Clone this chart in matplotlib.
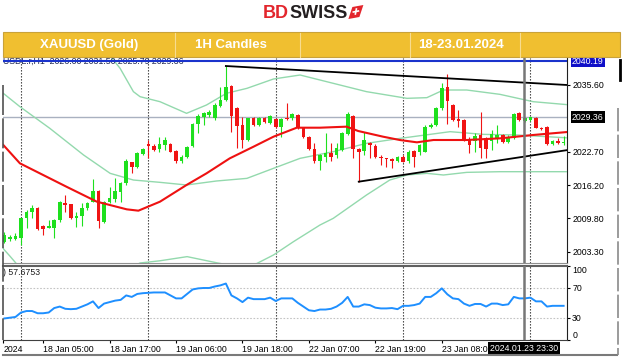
import matplotlib
matplotlib.use('Agg')
import matplotlib.pyplot as plt
import matplotlib.transforms as mtransforms
from matplotlib.patches import Polygon, Rectangle
from matplotlib.lines import Line2D
import numpy as np

plt.rcParams['font.family'] = ['Liberation Sans', 'DejaVu Sans']

W, H = 624, 359

# ---- data (hourly bars, index 0 = 18 Jan 01:00) ----
start_bar = -3
opens = [2005.29, 2005.81, 2005.81, 2006.07, 2009.81, 2010.97, 2011.87, 2008.39, 2008.00, 2008.00,
         2009.49, 2012.84, 2012.52, 2009.81, 2010.26, 2011.74, 2013.03, 2015.09, 2009.16, 2013.03,
         2013.55, 2014.97, 2016.58, 2020.64, 2019.80, 2022.19, 2024.12, 2023.86, 2023.15, 2023.99,
         2024.12, 2022.83, 2020.90, 2021.74, 2023.86, 2027.99, 2029.47, 2029.79, 2029.15, 2031.60,
         2032.70, 2035.47, 2031.21, 2027.86, 2024.96, 2029.15, 2027.86, 2029.15, 2028.18, 2029.02,
         2027.54, 2029.28, 2029.15, 2029.79, 2027.34, 2025.60, 2023.22, 2020.90, 2021.74, 2022.38,
         2022.06, 2023.02, 2026.05, 2029.60, 2023.22, 2022.83, 2024.31, 2023.86, 2021.74, 2021.41,
         2021.28, 2020.90, 2021.74, 2020.90, 2022.83, 2022.70, 2022.70, 2027.54, 2027.86, 2031.08,
         2035.27, 2031.73, 2029.02, 2028.83, 2024.96, 2024.77, 2025.93, 2025.28, 2024.77, 2025.28,
         2025.93, 2024.51, 2025.28, 2030.12, 2028.70, 2028.83, 2029.28, 2027.34, 2027.54, 2024.12,
         2024.77, 2024.31]
highs = [2007.23, 2006.58, 2006.90, 2009.90, 2011.42, 2012.39, 2012.00, 2008.50, 2009.49, 2009.60,
         2013.20, 2014.32, 2012.60, 2011.10, 2012.71, 2013.03, 2017.42, 2015.20, 2013.20, 2015.93,
         2017.67, 2016.90, 2021.28, 2020.77, 2022.70, 2023.35, 2024.96, 2024.12, 2025.60, 2025.60,
         2024.31, 2023.02, 2022.06, 2023.86, 2028.18, 2029.92, 2030.31, 2030.76, 2032.05, 2035.27,
         2039.27, 2035.60, 2031.41, 2029.47, 2029.28, 2029.47, 2029.47, 2029.47, 2029.79, 2029.15,
         2029.15, 2032.05, 2030.12, 2029.92, 2027.54, 2025.80, 2024.31, 2022.19, 2026.25, 2024.31,
         2024.31, 2026.57, 2030.31, 2029.79, 2023.35, 2026.57, 2024.64, 2024.12, 2022.06, 2021.54,
         2021.41, 2021.93, 2022.06, 2023.02, 2023.02, 2024.12, 2027.86, 2028.18, 2031.41, 2035.92,
         2037.66, 2031.86, 2030.76, 2029.02, 2025.60, 2026.25, 2030.44, 2025.60, 2026.89, 2027.86,
         2026.05, 2025.93, 2030.12, 2030.31, 2029.28, 2029.47, 2029.40, 2027.54, 2027.67, 2024.96,
         2025.28, 2025.73]
lows = [2004.97, 2005.40, 2005.60, 2004.65, 2007.87, 2009.81, 2007.60, 2006.58, 2007.87, 2005.94,
        2009.16, 2011.10, 2009.70, 2008.20, 2008.39, 2011.42, 2012.90, 2007.87, 2008.84, 2012.71,
        2013.03, 2013.03, 2016.26, 2018.51, 2019.61, 2022.06, 2021.41, 2022.83, 2022.70, 2023.02,
        2022.57, 2020.45, 2020.45, 2021.54, 2023.67, 2026.25, 2027.86, 2029.47, 2028.83, 2031.41,
        2032.50, 2026.44, 2023.35, 2023.35, 2024.77, 2027.73, 2027.73, 2028.18, 2027.99, 2027.34,
        2025.60, 2028.83, 2028.83, 2027.09, 2025.41, 2023.02, 2020.45, 2019.16, 2020.77, 2020.90,
        2021.41, 2022.83, 2025.93, 2021.41, 2016.90, 2022.06, 2021.41, 2021.54, 2020.12, 2019.80,
        2019.61, 2020.77, 2020.64, 2020.45, 2019.80, 2022.06, 2022.57, 2027.34, 2027.73, 2030.76,
        2028.00, 2028.63, 2027.54, 2024.77, 2022.38, 2022.70, 2021.41, 2021.41, 2023.02, 2024.31,
        2024.31, 2024.31, 2025.15, 2028.63, 2028.51, 2028.63, 2027.22, 2026.89, 2023.99, 2023.99,
        2024.12, 2023.99]
closes = [2006.58, 2006.26, 2006.45, 2009.81, 2011.10, 2011.87, 2007.74, 2007.74, 2008.39, 2009.49,
          2013.03, 2012.39, 2009.81, 2010.32, 2011.87, 2012.71, 2015.09, 2009.29, 2013.03, 2013.81,
          2015.09, 2016.58, 2020.90, 2019.80, 2022.38, 2023.15, 2023.80, 2023.02, 2024.12, 2024.96,
          2022.70, 2020.90, 2021.74, 2023.67, 2027.99, 2029.67, 2030.12, 2030.31, 2031.73, 2032.70,
          2035.27, 2029.67, 2027.73, 2024.96, 2029.15, 2027.86, 2029.15, 2028.51, 2029.67, 2027.54,
          2029.02, 2029.02, 2029.92, 2027.22, 2025.60, 2023.22, 2020.90, 2022.06, 2022.38, 2021.74,
          2023.35, 2026.25, 2029.92, 2023.22, 2022.70, 2024.96, 2023.99, 2021.74, 2021.54, 2021.22,
          2020.90, 2021.74, 2020.77, 2022.70, 2021.74, 2023.99, 2027.54, 2027.86, 2031.08, 2035.08,
          2032.50, 2028.83, 2028.63, 2024.96, 2023.99, 2025.80, 2023.35, 2023.22, 2026.05, 2025.93,
          2024.51, 2025.60, 2029.92, 2028.83, 2029.15, 2029.34, 2027.34, 2027.09, 2024.12, 2024.77,
          2024.31, 2024.64]
rsi_vals = [29, 30, 31, 37, 39, 39, 36, 36, 37, 43,
            45, 42, 41.5, 42, 45, 48, 52, 43, 49, 51,
            53, 54, 60, 58, 62, 63, 63.5, 64, 64, 64,
            60, 56, 56, 62, 68, 69.5, 70, 70, 72, 73.5,
            76, 60, 56, 51, 57, 55, 55, 55, 57, 52.5,
            56, 56, 56, 50, 45, 40, 39, 41, 41, 42,
            45, 50, 58, 45, 45, 48, 47, 43.5, 42.5, 42.5,
            43, 41.5, 46, 46, 47, 49, 58, 58, 63, 69.5,
            61.5, 56, 55, 49, 46, 48.5, 48.5, 45, 49, 49,
            47, 48, 58, 56, 56, 57, 52, 52, 45, 46,
            46, 46]

# moving average (red) and bands (green), read at bar positions
ma_idx = [-3.2, -0.2, 2.2, 8.2, 13.7, 19.1, 21.2, 25.1, 29.9, 33.5, 37.7, 42, 45.6, 49.8,
          54, 58.8, 60.9, 65.4, 68.4, 71.5, 74.5, 80.5, 86.5, 92.5, 98.6]
ma_val = [2024.0, 2020.45, 2019.16, 2015.93, 2013.03, 2011.55, 2011.29, 2013.03, 2016.26,
          2018.51, 2021.41, 2023.67, 2025.60, 2027.34, 2027.34, 2027.54, 2026.70, 2025.60,
          2024.96, 2024.51, 2024.96, 2024.96, 2025.28, 2025.93, 2026.5]
mid_idx = [-3.2, -0.2, 5.2, 11.3, 16.1, 20.3, 25.1, 29.9, 35.3, 40.8, 45.6, 50.4, 56.4,
           62.4, 68.5, 77.5, 83.5, 89.6, 98.6]
mid_val = [2033.99, 2031.41, 2027.22, 2022.06, 2018.51, 2017.22, 2016.77, 2016.26, 2017.03,
           2017.54, 2019.48, 2021.41, 2022.70, 2024.31, 2025.28, 2026.57, 2026.05, 2025.93, 2025.38]
up_idx = [15.5, 17.9, 20.3, 21.5, 25.1, 29.9, 33.5, 37.1, 40.8, 45.6, 50.4, 56.4, 62.4,
          69.7, 73.3, 76.3, 80.5, 86.5, 92.5, 98.6]
up_val = [2042.0, 2038.82, 2034.31, 2033.34, 2032.37, 2030.12, 2031.73, 2033.99, 2034.95,
          2036.76, 2037.53, 2035.92, 2034.31, 2033.02, 2033.15, 2034.63, 2034.63, 2033.79,
          2032.37, 2031.8]
low_idx = [-3.8, -2.0, 0.0, 10.0, 21.5, 25.1, 30.0, 35.4, 40.8, 45.6, 49.2, 54.0, 56.4,
           62.4, 66.6, 69.7, 73.3, 76.3, 80.5, 86.5, 98.6]
low_val = [2004.65, 2002.5, 2000.0, 1995.0, 2001.17, 2001.6, 2002.4, 2001.2, 2000.1, 2002.72,
           2005.29, 2008.52, 2009.81, 2014.32, 2017.22, 2018.19, 2018.51, 2018.19, 2018.70,
           2018.83, 2018.83]

# trend lines
upper_tl_x = [37, 98.61]
upper_tl_y = [2039.27, 2035.6]
lower_tl_x = [61, 98.61]
lower_tl_y = [2016.9, 2023.0]

price_ticks = [2003.3, 2009.8, 2016.2, 2022.7, 2035.6]
separators = [0, 23, 46, 69, 92]
time_ticks = [-3.2, 4, 16, 28, 40, 52, 64, 76]
time_labels = ['2024', '18 Jan 05:00', '18 Jan 17:00', '19 Jan 06:00', '19 Jan 18:00',
               '22 Jan 07:00', '22 Jan 19:00', '23 Jan 08:00']
ask_price = 2040.19
cross_price = 2029.36
cross_bar = 90.8

GREEN = '#1ee01e'
RED = '#f01414'
BAND = '#93d9ad'


def rect(x0, y0, x1, y1):
    return [x0 / W, 1 - y1 / H, (x1 - x0) / W, (y1 - y0) / H]


def fp(x, y):
    return (x / W, 1 - y / H)


fig = plt.figure(figsize=(W / 100, H / 100), dpi=100)
fig.patch.set_facecolor('white')

# ---- logo ----
t_bd = fig.text(*fp(263, 13.5), 'BD', color='#e3262d', fontsize=13, fontweight='bold',
                ha='left', va='center')
fig.canvas.draw()
bb = t_bd.get_window_extent()
t_sw = fig.text(bb.x1 / W, 1 - 13.5 / H, 'SWISS', color='#231f20', fontsize=13,
                fontweight='bold', ha='left', va='center')
fig.canvas.draw()
bb2 = t_sw.get_window_extent()
ix = bb2.x1
fig.add_artist(Polygon([fp(ix + 1, 19), fp(ix + 5, 7), fp(ix + 16, 5), fp(ix + 12, 17)],
                       closed=True, transform=fig.transFigure, facecolor='#e3262d',
                       edgecolor='none'))
fig.add_artist(Line2D([fp(ix + 6, 12)[0], fp(ix + 11, 11)[0]], [fp(0, 12)[1], fp(0, 11)[1]],
                      transform=fig.transFigure, color='white', lw=1.2))
fig.add_artist(Line2D([fp(ix + 8, 14)[0], fp(ix + 9, 9)[0]], [fp(0, 14)[1], fp(0, 9)[1]],
                      transform=fig.transFigure, color='white', lw=1.2))

# ---- header bar ----
fig.add_artist(Rectangle(fp(3, 57), (620 - 3) / W, 25 / H, transform=fig.transFigure,
                         facecolor='#f0bf30', edgecolor='#c9a23a', lw=0.8))
for xd in [175, 300, 410, 520]:
    fig.add_artist(Line2D([xd / W, xd / W], [1 - 33 / H, 1 - 57 / H], transform=fig.transFigure,
                          color='#f7dc90', lw=0.8))
for xc, txt in [(89, 'XAUUSD (Gold)'), (231, '1H Candles'), (461, '18-23.01.2024')]:
    fig.text(*fp(xc, 45), txt, color='white', fontsize=9.5, fontweight='bold',
             ha='center', va='center')

# ---- main chart ----
ax = fig.add_axes(rect(3, 58, 567, 263))
ax.set_xlim(-3.251, 98.61)
ax.set_ylim(2001.17, 2040.82)
idx = np.arange(start_bar, start_bar + len(closes))
o = np.array(opens)
c = np.array(closes)
cols = [GREEN if cc >= oo else RED for oo, cc in zip(o, c)]
ax.vlines(idx, lows, highs, colors=cols, lw=0.8, zorder=4)
body_bot = np.minimum(o, c)
body_h = np.maximum(np.abs(c - o), 0.18)
ax.bar(idx, body_h, bottom=body_bot, width=0.66, color=cols, lw=0, zorder=5)

ax.plot(up_idx, up_val, color=BAND, lw=1, zorder=3)
ax.plot(mid_idx, mid_val, color=BAND, lw=1, zorder=3)
ax.plot(low_idx, low_val, color=BAND, lw=1, zorder=3)
ax.plot(ma_idx, ma_val, color='#ee1111', lw=1.5, zorder=6)
ax.plot(upper_tl_x, upper_tl_y, color='black', lw=1.3, zorder=7)
ax.plot(lower_tl_x, lower_tl_y, color='black', lw=1.3, zorder=7)

ax.axhline(cross_price, color='#a9b1c0', lw=1, zorder=2)
ax.axhline(ask_price, color='#1a33cc', lw=1.5, zorder=8)

blend = mtransforms.blended_transform_factory(ax.transAxes, ax.transData)
ax.text(0.0, ask_price, 'USDL.r,H1  2026.00 2031.50 2025.79 2029.36', transform=blend,
        fontsize=6.3, color='#1c2550', ha='left', va='center', zorder=7)

ax.yaxis.tick_right()
ax.set_yticks(price_ticks)
ax.set_yticklabels(['%.2f' % p for p in price_ticks])
ax.tick_params(axis='y', direction='out', length=2.2, width=0.8, pad=1.5, labelsize=6.3)
ax.set_xticks([])
for s in ['left', 'top']:
    ax.spines[s].set_visible(False)
ax.spines['right'].set_color('#202020')
ax.spines['bottom'].set_color('#909090')

for price, fc in [(ask_price, '#1010c8'), (cross_price, 'black')]:
    ax.annotate('%.2f' % price, xy=(1, price), xycoords=('axes fraction', 'data'),
                xytext=(3.6, 0), textcoords='offset points', ha='left', va='center',
                fontsize=6.3, color='white', annotation_clip=False,
                bbox=dict(boxstyle='square,pad=0.15', fc=fc, ec='none'))

# ---- RSI panel ----
ax2 = fig.add_axes(rect(3, 265.7, 567, 340))
ax2.set_xlim(-3.251, 98.61)
ax2.set_ylim(0, 100)
ax2.plot(idx, rsi_vals, color='#1e8fff', lw=1.4, zorder=4)
for lv in [30, 70]:
    ax2.axhline(lv, color='#c4c4c4', lw=0.8, ls=(0, (1.5, 1.5)), zorder=1)
ax2.text(0.0, 0.915, ') 57.6753', transform=ax2.transAxes, fontsize=6.3, color='#202020',
         ha='left', va='center')
ax2.yaxis.tick_right()
ax2.set_yticks([0, 30, 70, 100])
ax2.set_yticklabels(['0', '30', '70', '100'])
ax2.tick_params(axis='y', direction='out', length=2.2, width=0.8, pad=1.5, labelsize=6.3)
ylab = ax2.get_yticklabels()
ylab[0].set_va('bottom')
ylab[3].set_va('top')
ax2.set_xticks(time_ticks)
ax2.set_xticklabels(time_labels)
ax2.tick_params(axis='x', direction='out', length=2.2, width=0.8, pad=1.2, labelsize=6.3)
for lbl in ax2.get_xticklabels():
    lbl.set_ha('left')
ax2.spines['left'].set_visible(False)
ax2.spines['top'].set_color('#606060')
ax2.spines['top'].set_linewidth(1.5)
ax2.spines['right'].set_color('#202020')
ax2.spines['bottom'].set_color('#404040')

ax2.annotate('2024.01.23 23:30', xy=(cross_bar, 0), xycoords=('data', 'axes fraction'),
             xytext=(0, -5.8), textcoords='offset points', ha='center', va='center',
             fontsize=6.3, color='white', annotation_clip=False, zorder=10,
             bbox=dict(boxstyle='square,pad=0.2', fc='black', ec='none'))

for a in (ax, ax2):
    for s in separators:
        a.axvline(s, color='#303030', lw=0.8, ls=(0, (1.2, 1.5)), zorder=2)
    a.axvline(cross_bar, color='#777777', lw=1.8, zorder=9)

# ---- window edges ----
fig.add_artist(Line2D([3 / W, 617 / W], [1 - 355 / H, 1 - 355 / H], transform=fig.transFigure,
                      color='#7a7a7a', lw=1.5))
fig.add_artist(Line2D([617.5 / W, 617.5 / W], [1 - 108 / H, 1 - 355 / H],
                      transform=fig.transFigure, color='#8a8a8a', lw=1.2, ls=(0, (14, 2))))
fig.add_artist(Line2D([620 / W, 620 / W], [1 - 60 / H, 1 - 80 / H], transform=fig.transFigure,
                      color='black', lw=2))
fig.add_artist(Line2D([2.5 / W, 2.5 / W], [1 - 85 / H, 1 - 340 / H], transform=fig.transFigure,
                      color='#505050', lw=1.2, ls=(0, (18, 2))))

fig.savefig('out.png', dpi=100, facecolor='white')
